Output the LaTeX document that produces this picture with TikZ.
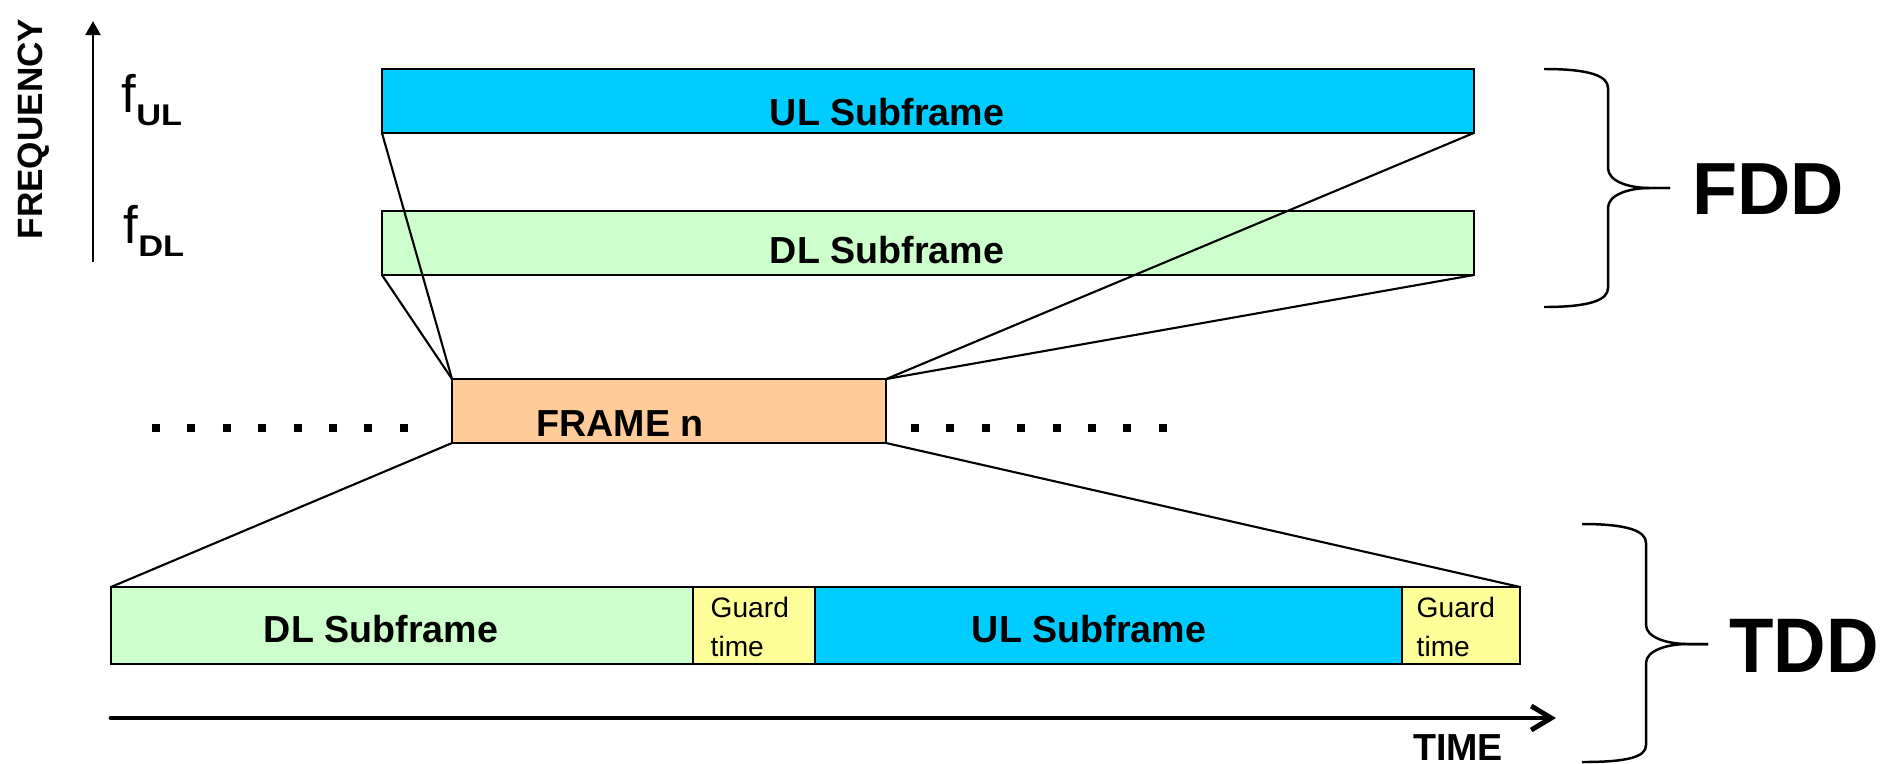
\documentclass[tikz,border=0pt]{standalone}
\usepackage{fontspec}
\setmainfont{Liberation Sans}
\usetikzlibrary{arrows.meta}

\definecolor{ulblue}{HTML}{00CCFF}
\definecolor{dlgreen}{HTML}{CCFFCC}
\definecolor{frameorange}{HTML}{FFCC99}
\definecolor{guardyellow}{HTML}{FFFF99}

\newcommand{\freqsub}[1]{\raisebox{-3.8pt}{\fontsize{8.5}{10}\selectfont\bfseries\scalebox{1.15}[1]{#1}}}

\begin{document}
\begin{tikzpicture}[x=0.01cm, y=-0.01cm,
    slot/.style={draw, line width=0.6pt, inner sep=0pt, outer sep=0pt, anchor=north west},
    lbl/.style={font=\fontsize{10.7}{12.8}\selectfont\bfseries, inner sep=0pt, anchor=base},
    guardlbl/.style={font=\fontsize{8}{11.1}\selectfont, align=left, inner sep=0pt, anchor=west},
    freqlbl/.style={font=\fontsize{15}{18}\selectfont, inner sep=0pt, anchor=base west},
    duplex/.style={font=\fontsize{21}{25}\selectfont\bfseries, inner sep=0pt, anchor=base},
    zoomline/.style={line width=0.6pt},
    bracepath/.style={line width=0.7pt}]
    \useasboundingbox (0, 0) rectangle (1898, 763);

    % frequency axis
    \coordinate (fbot) at (93, 262);
    \coordinate (ftop) at (93, 21);
    \draw [line width=0.6pt, -{Triangle[length=1.4mm, width=1.5mm]}] (fbot) -- (ftop);
    \node [rotate=90, anchor=base, inner sep=0pt, font=\fontsize{10}{12}\selectfont\bfseries] (freq) at (42, 129) {FREQUENCY};
    \node [freqlbl] (ful-lbl) at (121, 112) {f\freqsub{UL}};
    \node [freqlbl] (fdl-lbl) at (123, 243) {f\freqsub{DL}};

    % FDD
    \node [slot, fill=ulblue, minimum width=10.91cm, minimum height=0.64cm] (ful) at (382, 69) {};
    \node [slot, fill=dlgreen, minimum width=10.91cm, minimum height=0.64cm] (fdl) at (382, 211) {};
    \node [lbl] at (887, 125) {UL Subframe};
    \node [lbl] at (887, 263) {DL Subframe};

    % frame
    \node [slot, fill=frameorange, minimum width=4.34cm, minimum height=0.64cm] (frame) at (452, 379) {};
    \node [lbl] at (620, 436) {FRAME n};
    \foreach \i in {0,...,7} {
        \fill ({152 + 35.4*\i}, 424) rectangle ++(8, 8);
        \fill ({911 + 35.4*\i}, 424) rectangle ++(8, 8);
    }

    % TDD
    \node [slot, fill=dlgreen, minimum width=5.82cm, minimum height=0.77cm] (tdl) at (111, 587) {};
    \node [slot, fill=guardyellow, minimum width=1.22cm, minimum height=0.77cm] (tg1) at (693, 587) {};
    \node [slot, fill=ulblue, minimum width=5.87cm, minimum height=0.77cm] (tul) at (815, 587) {};
    \node [slot, fill=guardyellow, minimum width=1.18cm, minimum height=0.77cm] (tg2) at (1402, 587) {};
    \node [lbl] at (381, 642) {DL Subframe};
    \node [lbl] at (1089, 642) {UL Subframe};
    \node [guardlbl] at (710, 627) {Guard\\time};
    \node [guardlbl] at (1416, 627) {Guard\\time};

    % zoom lines
    \draw [zoomline] (ful.south west) -- (frame.north west);
    \draw [zoomline] (ful.south east) -- (frame.north east);
    \draw [zoomline] (fdl.south west) -- (frame.north west);
    \draw [zoomline] (fdl.south east) -- (frame.north east);
    \draw [zoomline] (frame.south west) -- (tdl.north west);
    \draw [zoomline] (frame.south east) -- (tg2.north east);

    % time axis
    \coordinate (tstart) at (111, 718);
    \coordinate (tend) at (1556, 718);
    \draw [line width=1.4pt, line cap=round, -{Straight Barb[length=2mm, width=2.4mm]}] (tstart) -- (tend);
    \node [lbl] at (1458, 760) {TIME};

    % braces
    \draw [bracepath] (1544, 69) .. controls (1590, 69) and (1608, 76) .. (1608, 88) -- (1608, 168)
        .. controls (1608, 181) and (1628, 188) .. (1650, 188) -- (1670, 188);
    \draw [bracepath] (1670, 188) -- (1650, 188) .. controls (1628, 188) and (1608, 195) .. (1608, 208)
        -- (1608, 288) .. controls (1608, 300) and (1590, 307) .. (1544, 307);
    \node [duplex] (fdd) at (1768, 214) {FDD};

    \draw [bracepath] (1582, 524) .. controls (1628, 524) and (1646, 531) .. (1646, 543) -- (1646, 625)
        .. controls (1646, 637) and (1666, 644) .. (1688, 644) -- (1708, 644);
    \draw [bracepath] (1708, 644) -- (1688, 644) .. controls (1666, 644) and (1646, 651) .. (1646, 663)
        -- (1646, 745) .. controls (1646, 757) and (1628, 762) .. (1582, 762);
    \node [duplex] (tdd) at (1804, 672) {\fontsize{22}{26}\selectfont\scalebox{0.94}[1]{TDD}};
\end{tikzpicture}
\end{document}
